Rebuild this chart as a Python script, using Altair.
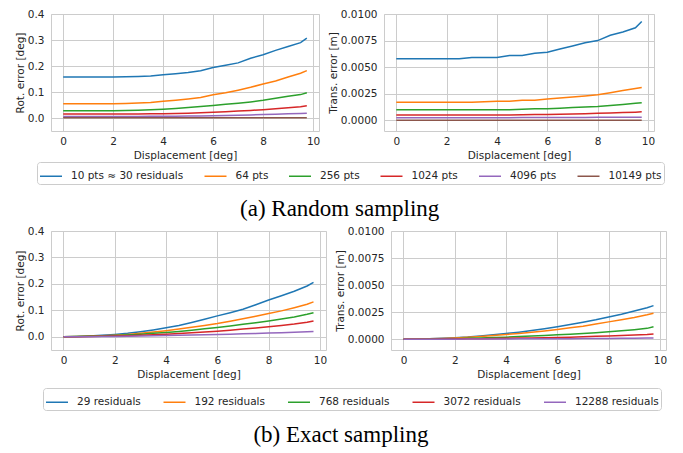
import altair as alt
import pandas as pd

X = [0.0, 0.5, 1.0, 1.5, 2.0, 2.5, 3.0, 3.5, 4.0, 4.5, 5.0, 5.5, 6.0, 6.5, 7.0, 7.5, 8.0, 8.5, 9.0, 9.5, 9.75]

COLORS = ["#1f77b4", "#ff7f0e", "#2ca02c", "#d62728", "#9467bd", "#8c564b"]

# (a) Random sampling
RANDOM_NAMES = ["10 pts ≈ 30 residuals", "64 pts", "256 pts", "1024 pts", "4096 pts", "10149 pts"]

ROT_R_10 = [.158, .158, .158, .158, .158, .159, .160, .162, .166, .170, .175, .182, .194, .203, .212, .230, .243, .260, .275, .290, .307]
ROT_R_64 = [.055, .055, .055, .055, .055, .056, .058, .060, .064, .068, .073, .079, .089, .097, .107, .118, .131, .142, .158, .172, .182]
ROT_R_256 = [.028, .028, .028, .028, .028, .029, .030, .032, .034, .037, .040, .044, .048, .053, .057, .062, .068, .076, .084, .090, .097]
ROT_R_1024 = [.015, .015, .015, .015, .015, .015, .015, .016, .016, .017, .018, .020, .022, .024, .027, .029, .032, .036, .039, .043, .047]
ROT_R_4096 = [.006, .006, .006, .006, .006, .006, .006, .007, .007, .007, .008, .008, .009, .010, .011, .012, .013, .014, .016, .017, .018]
ROT_R_10149 = [.001, .001, .001, .001, .001, .001, .001, .001, .001, .001, .001, .001, .001, .001, .001, .001, .001, .001, .001, .001, .001]

TR_R_10 = [.0058, .0058, .0058, .0058, .0058, .0058, .0059, .0059, .0059, .0061, .0061, .0063, .0064, .0067, .0070, .0073, .0075, .0080, .0083, .0087, .0093]
TR_R_64 = [.0017, .0017, .0017, .0017, .0017, .0017, .0017, .00175, .0018, .0018, .0019, .0019, .0020, .0021, .0022, .0023, .0024, .0026, .0028, .0030, .0031]
TR_R_256 = [.0010, .0010, .0010, .0010, .0010, .0010, .0010, .0010, .0010, .0010, .00105, .0011, .0011, .00115, .0012, .00125, .0013, .0014, .0015, .0016, .00165]
TR_R_1024 = [.0005, .0005, .0005, .0005, .0005, .0005, .0005, .0005, .0005, .0005, .00052, .00054, .00056, .00058, .0006, .00063, .00066, .0007, .00073, .00077, .0008]
TR_R_4096 = [.00025, .00025, .00025, .00025, .00025, .00025, .00025, .00025, .00025, .00025, .00026, .00026, .00027, .00027, .00028, .00028, .00029, .00029, .0003, .0003, .0003]
TR_R_10149 = [.00002, .00002, .00002, .00002, .00002, .00002, .00002, .00002, .00002, .00002, .00002, .00002, .00002, .00002, .00002, .00002, .00002, .00002, .00002, .00002, .00002]

# (b) Exact sampling
EXACT_NAMES = ["29 residuals", "192 residuals", "768 residuals", "3072 residuals", "12288 residuals"]

ROT_E_29 = [0, .001, .003, .006, .009, .013, .019, .026, .034, .043, .054, .066, .079, .091, .104, .121, .139, .155, .172, .192, .206]
ROT_E_192 = [0, .001, .002, .004, .006, .009, .013, .018, .023, .029, .036, .043, .050, .059, .068, .078, .088, .098, .110, .123, .132]
ROT_E_768 = [0, .001, .002, .003, .005, .007, .010, .013, .016, .020, .025, .030, .035, .041, .047, .053, .060, .067, .075, .085, .091]
ROT_E_3072 = [0, 0, .001, .002, .003, .004, .006, .008, .010, .012, .015, .018, .021, .025, .029, .033, .038, .043, .048, .055, .060]
ROT_E_12288 = [0, 0, 0, .001, .001, .002, .003, .004, .005, .006, .007, .008, .009, .010, .011, .012, .014, .015, .017, .019, .020]

TR_E_29 = [0, .00001, .00003, .00008, .00014, .0002, .0003, .0004, .00052, .00065, .0008, .00097, .00115, .00135, .00157, .0018, .00206, .0023, .0026, .0029, .0031]
TR_E_192 = [0, .00001, .00003, .00007, .00012, .00018, .00025, .00034, .00043, .00053, .00064, .00076, .0009, .00105, .0012, .0014, .0016, .0018, .002, .00225, .0024]
TR_E_768 = [0, 0, .00001, .00003, .00005, .00008, .00011, .00015, .00019, .00024, .00029, .00034, .0004, .00046, .00053, .0006, .00068, .00077, .00088, .001, .00115]
TR_E_3072 = [0, 0, 0, .00001, .00002, .00003, .00004, .00006, .00008, .0001, .00012, .00014, .00016, .00019, .00022, .00026, .0003, .00034, .00038, .00043, .00048]
TR_E_12288 = [0, 0, 0, 0, 0, .00001, .00001, .00002, .00002, .00003, .00003, .00004, .00004, .00005, .00006, .00006, .00007, .00008, .00009, .0001, .0001]

ROT_TICKS = [0.0, 0.1, 0.2, 0.3, 0.4]
TR_TICKS = [0.0, 0.0025, 0.005, 0.0075, 0.01]
X_TICKS = [0, 2, 4, 6, 8, 10]

FONT = "DejaVu Sans"
TEXT = "#262626"
GRID = "#cccccc"
FS = 10.5


def long_df(names, series):
    rows = []
    for name, vals in zip(names, series):
        for x, v in zip(X, vals):
            rows.append({"x": x, "y": v, "series": name})
    return pd.DataFrame(rows)


def make_legend(lx, ly, colpad):
    return alt.Legend(
        title=None, orient="none", legendX=lx, legendY=ly, direction="horizontal",
        columns=6, symbolType="stroke", symbolSize=484, symbolStrokeWidth=1.5,
        labelFont=FONT, labelFontSize=FS, labelColor=TEXT, labelOffset=8,
        labelLimit=300, columnPadding=colpad, padding=2, strokeColor=GRID,
        fillColor="white", cornerRadius=3,
    )


def panel(df, names, ydom, yticks, yfmt, ytitle, legend, w, h):
    return alt.Chart(df).mark_line(strokeWidth=1.5).encode(
        x=alt.X("x:Q",
                scale=alt.Scale(domain=[-0.4875, 10.2375], nice=False, zero=False),
                axis=alt.Axis(values=X_TICKS, format="d", title="Displacement [deg]",
                              labelPadding=5, titlePadding=4,
                              labelFont=FONT, labelFontSize=FS, labelColor=TEXT,
                              titleFont=FONT, titleFontSize=FS, titleFontWeight="normal",
                              titleColor=TEXT)),
        y=alt.Y("y:Q",
                scale=alt.Scale(domain=ydom, nice=False, zero=False),
                axis=alt.Axis(values=yticks, format=yfmt, title=ytitle,
                              labelPadding=7, titlePadding=2,
                              labelFont=FONT, labelFontSize=FS, labelColor=TEXT,
                              titleFont=FONT, titleFontSize=FS, titleFontWeight="normal",
                              titleColor=TEXT)),
        color=alt.Color("series:N",
                        scale=alt.Scale(domain=names, range=COLORS[:len(names)]),
                        legend=legend),
    ).properties(width=w, height=h)


df_rot_r = long_df(RANDOM_NAMES, [ROT_R_10, ROT_R_64, ROT_R_256, ROT_R_1024, ROT_R_4096, ROT_R_10149])
df_tr_r = long_df(RANDOM_NAMES, [TR_R_10, TR_R_64, TR_R_256, TR_R_1024, TR_R_4096, TR_R_10149])
df_rot_e = long_df(EXACT_NAMES, [ROT_E_29, ROT_E_192, ROT_E_768, ROT_E_3072, ROT_E_12288])
df_tr_e = long_df(EXACT_NAMES, [TR_E_29, TR_E_192, TR_E_768, TR_E_3072, TR_E_12288])

leg_top = make_legend(-14, 148, 17.5)
leg_bot = make_legend(-8, 157, 19.5)

tl = panel(df_rot_r, RANDOM_NAMES, [-0.05, 0.4], ROT_TICKS, ".1f", "Rot. error [deg]", leg_top, 268, 117)
tr = panel(df_tr_r, RANDOM_NAMES, [-0.001, 0.01], TR_TICKS, ".4f", "Trans. error [m]", leg_top, 270, 117)
bl = panel(df_rot_e, EXACT_NAMES, [-0.05, 0.4], ROT_TICKS, ".1f", "Rot. error [deg]", leg_bot, 275, 119)
br = panel(df_tr_e, EXACT_NAMES, [-0.001, 0.01], TR_TICKS, ".4f", "Trans. error [m]", leg_bot, 275, 119)


def caption(text):
    return alt.TitleParams(text=text, orient="bottom", anchor="middle", font="Liberation Serif",
                           fontSize=23, fontWeight="normal", color="black", offset=13)


top = alt.hconcat(tl, tr, spacing=6).resolve_scale(color="shared").properties(
    title=caption("(a) Random sampling"))
bottom = alt.hconcat(bl, br, spacing=6).resolve_scale(color="shared").properties(
    title=caption("(b) Exact sampling"))

chart = alt.vconcat(top, bottom, spacing=4).resolve_scale(color="independent").properties(
    padding={"left": 6, "top": 0, "right": 0, "bottom": 0},
    background="white",
).configure_view(stroke=GRID, strokeWidth=1).configure_axis(
    grid=True, gridColor=GRID, gridWidth=1, domain=False, ticks=False, tickSize=0,
    labelFont=FONT, labelFontSize=FS, labelColor=TEXT,
    titleFont=FONT, titleFontSize=FS, titleFontWeight="normal", titleColor=TEXT,
)

chart.save("out.html", embed_options={"renderer": "svg", "actions": False})
